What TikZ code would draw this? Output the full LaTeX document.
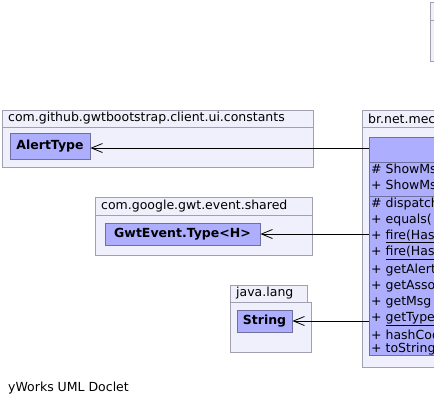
\documentclass[tikz,border=0pt]{standalone}
\usepackage{fontspec}
\setmainfont{DejaVu Sans}
\usetikzlibrary{arrows.meta}
\definecolor{pkgfill}{RGB}{240,240,252}
\definecolor{pkgline}{RGB}{160,160,176}
\definecolor{clsfill}{RGB}{174,174,255}
\definecolor{clsline}{RGB}{112,112,160}
\tikzset{
  pkg/.style={draw=pkgline, fill=pkgfill, line width=0.8bp},
  pkgtext/.style={anchor=west, inner sep=0pt, font=\fontsize{12.5bp}{14bp}\selectfont},
  cls/.style={draw=clsline, fill=clsfill, line width=0.8bp, inner sep=0pt, font=\fontsize{12.5bp}{14bp}\selectfont\bfseries},
  mem/.style={anchor=west, inner sep=0pt, font=\fontsize{12.5bp}{14bp}\selectfont},
  dep/.style={draw=black, line width=0.8bp, -{Straight Barb[length=11bp,width=9bp,line width=0.8bp]}},
  sep/.style={draw=clsline, line width=0.8bp}
}
\begin{document}
\begin{tikzpicture}[x=1bp, y=-1bp]
\useasboundingbox (0,0) rectangle (434,406);
% top right partial box
\path[pkg] (430,2) rectangle (440,61);
\draw[pkgline, line width=0.8bp] (430,20) -- (440,20);
% package 1
\path[pkg] (2,110) rectangle (313,167);
\draw[pkgline, line width=0.8bp] (2,127) -- (313,127);
\node[pkgtext] (p1) at (8,118.5) {com.github.gwtbootstrap.client.ui.constants};
\node[cls, minimum width=80bp, minimum height=26bp] (alert) at (50,146) {AlertType};
% package 2
\path[pkg] (95,197) rectangle (312,255);
\draw[pkgline, line width=0.8bp] (95,215) -- (312,215);
\node[pkgtext] (p2) at (101,206) {com.google.gwt.event.shared};
\node[cls, minimum width=155bp, minimum height=22bp] (gwt) at (182.5,234) {GwtEvent.Type<H>};
% package 3
\path[pkg] (230,285) rectangle (307,302);
\path[pkg] (230,302) rectangle (311,352);
\node[pkgtext] (p3) at (236,293.5) {java.lang};
\node[cls, minimum width=55bp, minimum height=22bp] (str) at (264.5,321) {String};
% big package
\path[pkg] (362,110) rectangle (440,367);
\draw[pkgline, line width=0.8bp] (362,127) -- (440,127);
\node[pkgtext] (p4) at (368,118.5) {br.net.mechanisms};
\path[draw=clsline, fill=clsfill, line width=0.8bp] (369,137) rectangle (440,355);
\draw[sep] (369,162) -- (440,162);
\draw[sep] (369,196) -- (440,196);
\node[mem] (m1) at (371,170) {\#\ ShowMsgEvent};
\node[mem] (m2) at (371,186) {+\ ShowMsgEvent};
\node[mem] (m3) at (371,204) {\#\ dispatch};
\node[mem] (m4) at (371,220) {+\ equals(};
\node[mem] (m5) at (371,236.5) {+\ \underline{fire(HasHandlers}};
\node[mem] (m6) at (371,253) {+\ \underline{fire(HasHandlers}};
\node[mem] (m7) at (371,270) {+\ getAlertType};
\node[mem] (m8) at (371,286) {+\ getAssociatedType};
\node[mem] (m9) at (371,302) {+\ getMsg};
\node[mem] (m10) at (371,319) {+\ \underline{getType}};
\node[mem] (m11) at (371,335) {+\ hashCode};
\node[mem] (m12) at (371,349) {+\ toString};
% connectors
\coordinate (c1) at (369,148);
\coordinate (c2) at (369,234);
\coordinate (c3) at (369,321);
\draw[dep] (c1) -- (c1 -| alert.east);
\draw[dep] (c2) -- (c2 -| gwt.east);
\draw[dep] (c3) -- (c3 -| str.east);
\node[pkgtext] (foot) at (8,388) {yWorks UML Doclet};
\end{tikzpicture}
\end{document}
